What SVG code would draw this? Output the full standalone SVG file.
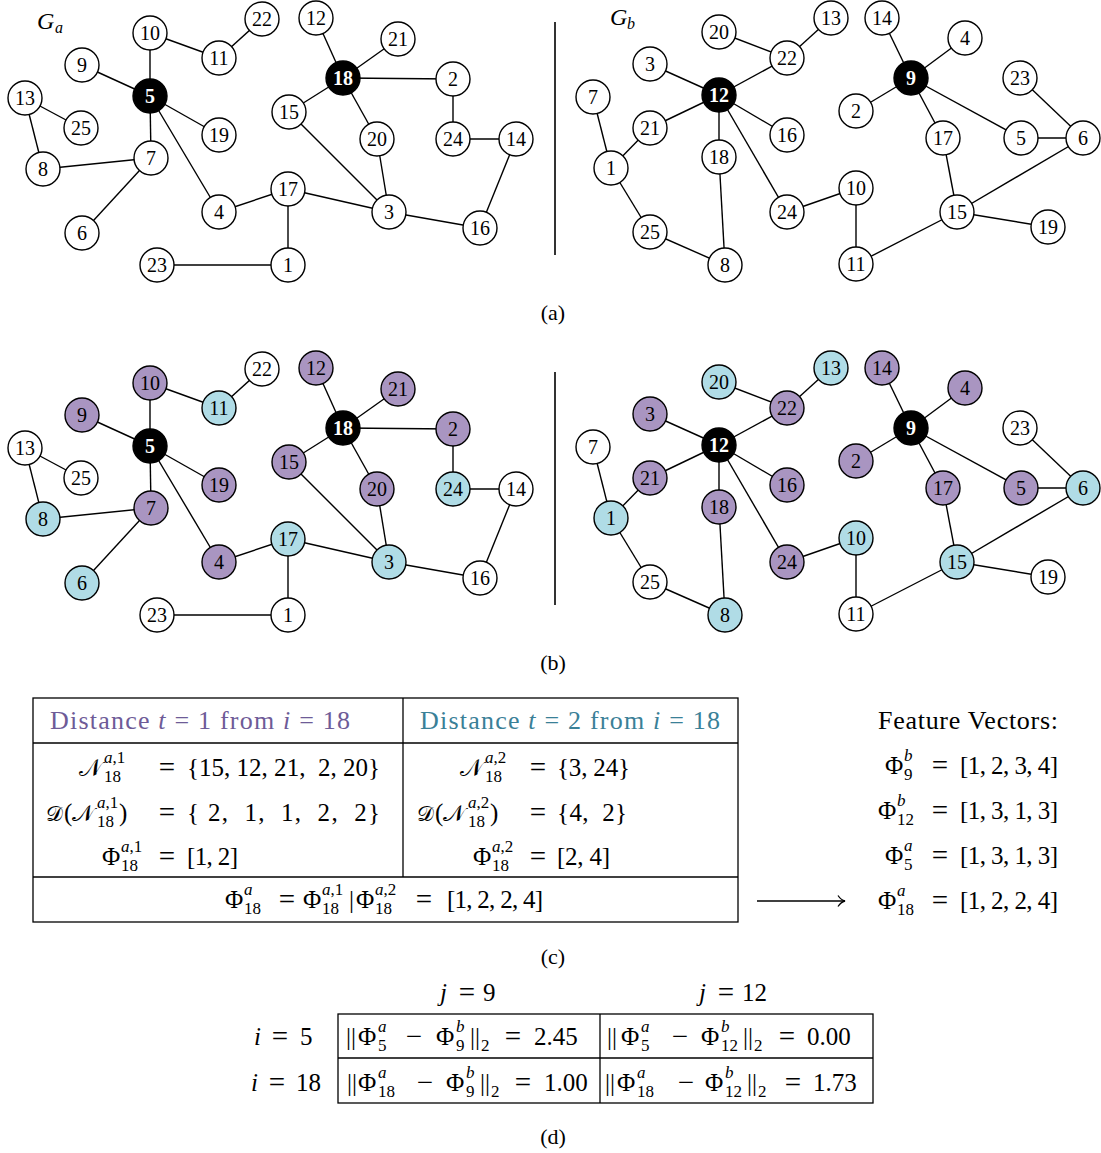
<svg xmlns="http://www.w3.org/2000/svg" width="1101" height="1153" viewBox="0 0 1101 1153">
<style>
.e{stroke:#000;stroke-width:1.4;fill:none}
.nd circle{stroke:#000;stroke-width:1.4}
.w circle{fill:#fff}.p circle{fill:#a995c1}.c circle{fill:#b0dce6}.k circle{fill:#000}
.nd text{font-family:"Liberation Serif",serif;font-size:20px;text-anchor:middle;fill:#000}
.k text{fill:#fff;font-weight:bold}
.m{font-family:"Liberation Serif",serif;font-size:25px;fill:#000}
.q{font-family:"Liberation Serif",serif;font-size:29px;fill:#000;text-anchor:middle}
.cal{font-family:"Liberation Serif",serif;font-size:24px;fill:#000}
.s{font-family:"Liberation Serif",serif;font-size:17px;fill:#000}
.i{font-style:italic}
.mid{text-anchor:middle}
.lbl{font-family:"Liberation Serif",serif;font-size:22px;text-anchor:middle}
.g{font-family:"Liberation Serif",serif;font-style:italic}
.tb{stroke:#000;stroke-width:1.3;fill:none}
.dv{stroke:#333;stroke-width:2}
</style>
<rect width="1101" height="1153" fill="#fff"/>

<g id="connectors" class="e">
<g id="edgesA">
<line x1="150" y1="33" x2="150" y2="96"/><line x1="150" y1="33" x2="219" y2="58"/><line x1="219" y1="58" x2="262" y2="19"/>
<line x1="82" y1="65" x2="150" y2="96"/><line x1="150" y1="96" x2="219" y2="135"/><line x1="150" y1="96" x2="151" y2="158"/>
<line x1="150" y1="96" x2="219" y2="212"/><line x1="25" y1="98" x2="81" y2="128"/><line x1="25" y1="98" x2="43" y2="169"/>
<line x1="43" y1="169" x2="151" y2="158"/><line x1="151" y1="158" x2="82" y2="233"/><line x1="219" y1="212" x2="288" y2="189"/>
<line x1="288" y1="189" x2="288" y2="265"/><line x1="288" y1="189" x2="389" y2="212"/><line x1="157" y1="265" x2="288" y2="265"/>
<line x1="316" y1="18" x2="343" y2="78"/><line x1="398" y1="39" x2="343" y2="78"/><line x1="343" y1="78" x2="453" y2="79"/>
<line x1="343" y1="78" x2="289" y2="112"/><line x1="343" y1="78" x2="377" y2="139"/><line x1="289" y1="112" x2="389" y2="212"/>
<line x1="377" y1="139" x2="389" y2="212"/><line x1="453" y1="79" x2="453" y2="139"/><line x1="453" y1="139" x2="516" y2="139"/>
<line x1="516" y1="139" x2="480" y2="228"/><line x1="389" y1="212" x2="480" y2="228"/>
</g>
<g id="edgesB">
<line x1="719" y1="32" x2="787" y2="58"/><line x1="831" y1="18" x2="787" y2="58"/><line x1="787" y1="58" x2="719" y2="95"/>
<line x1="650" y1="64" x2="719" y2="95"/><line x1="719" y1="95" x2="650" y2="128"/><line x1="719" y1="95" x2="787" y2="135"/>
<line x1="719" y1="95" x2="719" y2="157"/><line x1="719" y1="95" x2="787" y2="212"/><line x1="650" y1="128" x2="611" y2="168"/>
<line x1="593" y1="97" x2="611" y2="168"/><line x1="611" y1="168" x2="650" y2="232"/><line x1="650" y1="232" x2="725" y2="265"/>
<line x1="719" y1="157" x2="725" y2="265"/><line x1="787" y1="212" x2="856" y2="188"/><line x1="856" y1="188" x2="856" y2="264"/>
<line x1="856" y1="264" x2="957" y2="212"/><line x1="957" y1="212" x2="1048" y2="227"/><line x1="957" y1="212" x2="1083" y2="138"/>
<line x1="957" y1="212" x2="943" y2="138"/><line x1="943" y1="138" x2="911" y2="78"/><line x1="911" y1="78" x2="882" y2="18"/>
<line x1="911" y1="78" x2="965" y2="38"/><line x1="911" y1="78" x2="856" y2="111"/><line x1="911" y1="78" x2="1021" y2="138"/>
<line x1="1021" y1="138" x2="1083" y2="138"/><line x1="1020" y1="78" x2="1083" y2="138"/>
</g>
<use href="#edgesA" transform="translate(0,350)"/>
<use href="#edgesB" transform="translate(0,350)"/>
</g>

<line class="dv" x1="555" y1="22" x2="555" y2="255"/>
<line class="dv" x1="555" y1="372" x2="555" y2="605"/>
<text class="g" x="37" y="29" font-size="24">G</text><text class="g" x="55" y="33" font-size="16">a</text>
<text class="g" x="610" y="25" font-size="24">G</text><text class="g" x="627" y="29" font-size="16">b</text>

<!-- Panel (a) G_a -->
<g id="panelA-Ga">
<g id="a-a10" class="nd w"><circle cx="150" cy="33" r="17"/><text x="150" y="40">10</text></g>
<g id="a-a22" class="nd w"><circle cx="262" cy="19" r="17"/><text x="262" y="26">22</text></g>
<g id="a-a11" class="nd w"><circle cx="219" cy="58" r="17"/><text x="219" y="65">11</text></g>
<g id="a-a9" class="nd w"><circle cx="82" cy="65" r="17"/><text x="82" y="72">9</text></g>
<g id="a-a5" class="nd k"><circle cx="150" cy="96" r="17"/><text x="150" y="103">5</text></g>
<g id="a-a13" class="nd w"><circle cx="25" cy="98" r="17"/><text x="25" y="105">13</text></g>
<g id="a-a25" class="nd w"><circle cx="81" cy="128" r="17"/><text x="81" y="135">25</text></g>
<g id="a-a19" class="nd w"><circle cx="219" cy="135" r="17"/><text x="219" y="142">19</text></g>
<g id="a-a8" class="nd w"><circle cx="43" cy="169" r="17"/><text x="43" y="176">8</text></g>
<g id="a-a7" class="nd w"><circle cx="151" cy="158" r="17"/><text x="151" y="165">7</text></g>
<g id="a-a6" class="nd w"><circle cx="82" cy="233" r="17"/><text x="82" y="240">6</text></g>
<g id="a-a4" class="nd w"><circle cx="219" cy="212" r="17"/><text x="219" y="219">4</text></g>
<g id="a-a17" class="nd w"><circle cx="288" cy="189" r="17"/><text x="288" y="196">17</text></g>
<g id="a-a23" class="nd w"><circle cx="157" cy="265" r="17"/><text x="157" y="272">23</text></g>
<g id="a-a1" class="nd w"><circle cx="288" cy="265" r="17"/><text x="288" y="272">1</text></g>
<g id="a-a12" class="nd w"><circle cx="316" cy="18" r="17"/><text x="316" y="25">12</text></g>
<g id="a-a21" class="nd w"><circle cx="398" cy="39" r="17"/><text x="398" y="46">21</text></g>
<g id="a-a18" class="nd k"><circle cx="343" cy="78" r="17"/><text x="343" y="85">18</text></g>
<g id="a-a2" class="nd w"><circle cx="453" cy="79" r="17"/><text x="453" y="86">2</text></g>
<g id="a-a15" class="nd w"><circle cx="289" cy="112" r="17"/><text x="289" y="119">15</text></g>
<g id="a-a20" class="nd w"><circle cx="377" cy="139" r="17"/><text x="377" y="146">20</text></g>
<g id="a-a24" class="nd w"><circle cx="453" cy="139" r="17"/><text x="453" y="146">24</text></g>
<g id="a-a14" class="nd w"><circle cx="516" cy="139" r="17"/><text x="516" y="146">14</text></g>
<g id="a-a3" class="nd w"><circle cx="389" cy="212" r="17"/><text x="389" y="219">3</text></g>
<g id="a-a16" class="nd w"><circle cx="480" cy="228" r="17"/><text x="480" y="235">16</text></g>
</g>
<!-- Panel (a) G_b -->
<g id="panelA-Gb">
<g id="a-b20" class="nd w"><circle cx="719" cy="32" r="17"/><text x="719" y="39">20</text></g>
<g id="a-b13" class="nd w"><circle cx="831" cy="18" r="17"/><text x="831" y="25">13</text></g>
<g id="a-b22" class="nd w"><circle cx="787" cy="58" r="17"/><text x="787" y="65">22</text></g>
<g id="a-b14" class="nd w"><circle cx="882" cy="18" r="17"/><text x="882" y="25">14</text></g>
<g id="a-b4" class="nd w"><circle cx="965" cy="38" r="17"/><text x="965" y="45">4</text></g>
<g id="a-b3" class="nd w"><circle cx="650" cy="64" r="17"/><text x="650" y="71">3</text></g>
<g id="a-b12" class="nd k"><circle cx="719" cy="95" r="17"/><text x="719" y="102">12</text></g>
<g id="a-b9" class="nd k"><circle cx="911" cy="78" r="17"/><text x="911" y="85">9</text></g>
<g id="a-b23" class="nd w"><circle cx="1020" cy="78" r="17"/><text x="1020" y="85">23</text></g>
<g id="a-b7" class="nd w"><circle cx="593" cy="97" r="17"/><text x="593" y="104">7</text></g>
<g id="a-b21" class="nd w"><circle cx="650" cy="128" r="17"/><text x="650" y="135">21</text></g>
<g id="a-b16" class="nd w"><circle cx="787" cy="135" r="17"/><text x="787" y="142">16</text></g>
<g id="a-b2" class="nd w"><circle cx="856" cy="111" r="17"/><text x="856" y="118">2</text></g>
<g id="a-b18" class="nd w"><circle cx="719" cy="157" r="17"/><text x="719" y="164">18</text></g>
<g id="a-b17" class="nd w"><circle cx="943" cy="138" r="17"/><text x="943" y="145">17</text></g>
<g id="a-b5" class="nd w"><circle cx="1021" cy="138" r="17"/><text x="1021" y="145">5</text></g>
<g id="a-b6" class="nd w"><circle cx="1083" cy="138" r="17"/><text x="1083" y="145">6</text></g>
<g id="a-b1" class="nd w"><circle cx="611" cy="168" r="17"/><text x="611" y="175">1</text></g>
<g id="a-b10" class="nd w"><circle cx="856" cy="188" r="17"/><text x="856" y="195">10</text></g>
<g id="a-b24" class="nd w"><circle cx="787" cy="212" r="17"/><text x="787" y="219">24</text></g>
<g id="a-b15" class="nd w"><circle cx="957" cy="212" r="17"/><text x="957" y="219">15</text></g>
<g id="a-b19" class="nd w"><circle cx="1048" cy="227" r="17"/><text x="1048" y="234">19</text></g>
<g id="a-b25" class="nd w"><circle cx="650" cy="232" r="17"/><text x="650" y="239">25</text></g>
<g id="a-b8" class="nd w"><circle cx="725" cy="265" r="17"/><text x="725" y="272">8</text></g>
<g id="a-b11" class="nd w"><circle cx="856" cy="264" r="17"/><text x="856" y="271">11</text></g>
</g>

<!-- Panel (b) -->
<g id="panelB" transform="translate(0,350)">
<g id="b-a10" class="nd p"><circle cx="150" cy="33" r="17"/><text x="150" y="40">10</text></g>
<g id="b-a22" class="nd w"><circle cx="262" cy="19" r="17"/><text x="262" y="26">22</text></g>
<g id="b-a11" class="nd c"><circle cx="219" cy="58" r="17"/><text x="219" y="65">11</text></g>
<g id="b-a9" class="nd p"><circle cx="82" cy="65" r="17"/><text x="82" y="72">9</text></g>
<g id="b-a5" class="nd k"><circle cx="150" cy="96" r="17"/><text x="150" y="103">5</text></g>
<g id="b-a13" class="nd w"><circle cx="25" cy="98" r="17"/><text x="25" y="105">13</text></g>
<g id="b-a25" class="nd w"><circle cx="81" cy="128" r="17"/><text x="81" y="135">25</text></g>
<g id="b-a19" class="nd p"><circle cx="219" cy="135" r="17"/><text x="219" y="142">19</text></g>
<g id="b-a8" class="nd c"><circle cx="43" cy="169" r="17"/><text x="43" y="176">8</text></g>
<g id="b-a7" class="nd p"><circle cx="151" cy="158" r="17"/><text x="151" y="165">7</text></g>
<g id="b-a6" class="nd c"><circle cx="82" cy="233" r="17"/><text x="82" y="240">6</text></g>
<g id="b-a4" class="nd p"><circle cx="219" cy="212" r="17"/><text x="219" y="219">4</text></g>
<g id="b-a17" class="nd c"><circle cx="288" cy="189" r="17"/><text x="288" y="196">17</text></g>
<g id="b-a23" class="nd w"><circle cx="157" cy="265" r="17"/><text x="157" y="272">23</text></g>
<g id="b-a1" class="nd w"><circle cx="288" cy="265" r="17"/><text x="288" y="272">1</text></g>
<g id="b-a12" class="nd p"><circle cx="316" cy="18" r="17"/><text x="316" y="25">12</text></g>
<g id="b-a21" class="nd p"><circle cx="398" cy="39" r="17"/><text x="398" y="46">21</text></g>
<g id="b-a18" class="nd k"><circle cx="343" cy="78" r="17"/><text x="343" y="85">18</text></g>
<g id="b-a2" class="nd p"><circle cx="453" cy="79" r="17"/><text x="453" y="86">2</text></g>
<g id="b-a15" class="nd p"><circle cx="289" cy="112" r="17"/><text x="289" y="119">15</text></g>
<g id="b-a20" class="nd p"><circle cx="377" cy="139" r="17"/><text x="377" y="146">20</text></g>
<g id="b-a24" class="nd c"><circle cx="453" cy="139" r="17"/><text x="453" y="146">24</text></g>
<g id="b-a14" class="nd w"><circle cx="516" cy="139" r="17"/><text x="516" y="146">14</text></g>
<g id="b-a3" class="nd c"><circle cx="389" cy="212" r="17"/><text x="389" y="219">3</text></g>
<g id="b-a16" class="nd w"><circle cx="480" cy="228" r="17"/><text x="480" y="235">16</text></g>

<g id="b-b20" class="nd c"><circle cx="719" cy="32" r="17"/><text x="719" y="39">20</text></g>
<g id="b-b13" class="nd c"><circle cx="831" cy="18" r="17"/><text x="831" y="25">13</text></g>
<g id="b-b22" class="nd p"><circle cx="787" cy="58" r="17"/><text x="787" y="65">22</text></g>
<g id="b-b14" class="nd p"><circle cx="882" cy="18" r="17"/><text x="882" y="25">14</text></g>
<g id="b-b4" class="nd p"><circle cx="965" cy="38" r="17"/><text x="965" y="45">4</text></g>
<g id="b-b3" class="nd p"><circle cx="650" cy="64" r="17"/><text x="650" y="71">3</text></g>
<g id="b-b12" class="nd k"><circle cx="719" cy="95" r="17"/><text x="719" y="102">12</text></g>
<g id="b-b9" class="nd k"><circle cx="911" cy="78" r="17"/><text x="911" y="85">9</text></g>
<g id="b-b23" class="nd w"><circle cx="1020" cy="78" r="17"/><text x="1020" y="85">23</text></g>
<g id="b-b7" class="nd w"><circle cx="593" cy="97" r="17"/><text x="593" y="104">7</text></g>
<g id="b-b21" class="nd p"><circle cx="650" cy="128" r="17"/><text x="650" y="135">21</text></g>
<g id="b-b16" class="nd p"><circle cx="787" cy="135" r="17"/><text x="787" y="142">16</text></g>
<g id="b-b2" class="nd p"><circle cx="856" cy="111" r="17"/><text x="856" y="118">2</text></g>
<g id="b-b18" class="nd p"><circle cx="719" cy="157" r="17"/><text x="719" y="164">18</text></g>
<g id="b-b17" class="nd p"><circle cx="943" cy="138" r="17"/><text x="943" y="145">17</text></g>
<g id="b-b5" class="nd p"><circle cx="1021" cy="138" r="17"/><text x="1021" y="145">5</text></g>
<g id="b-b6" class="nd c"><circle cx="1083" cy="138" r="17"/><text x="1083" y="145">6</text></g>
<g id="b-b1" class="nd c"><circle cx="611" cy="168" r="17"/><text x="611" y="175">1</text></g>
<g id="b-b10" class="nd c"><circle cx="856" cy="188" r="17"/><text x="856" y="195">10</text></g>
<g id="b-b24" class="nd p"><circle cx="787" cy="212" r="17"/><text x="787" y="219">24</text></g>
<g id="b-b15" class="nd c"><circle cx="957" cy="212" r="17"/><text x="957" y="219">15</text></g>
<g id="b-b19" class="nd w"><circle cx="1048" cy="227" r="17"/><text x="1048" y="234">19</text></g>
<g id="b-b25" class="nd w"><circle cx="650" cy="232" r="17"/><text x="650" y="239">25</text></g>
<g id="b-b8" class="nd c"><circle cx="725" cy="265" r="17"/><text x="725" y="272">8</text></g>
<g id="b-b11" class="nd w"><circle cx="856" cy="264" r="17"/><text x="856" y="271">11</text></g>
</g>

<text class="lbl" x="553" y="320">(a)</text>
<text class="lbl" x="553" y="670">(b)</text>

<!-- Table (c) -->
<g id="tableC">
<rect class="tb" x="33" y="698" width="705" height="224"/>
<line class="tb" x1="33" y1="743" x2="738" y2="743"/>
<line class="tb" x1="33" y1="877" x2="738" y2="877"/>
<line class="tb" x1="403" y1="698" x2="403" y2="877"/>
<text class="m" x="50" y="729" style="fill:#6e5b97;font-size:26px" textLength="300" lengthAdjust="spacing">Distance <tspan class="i">t</tspan> = 1 from <tspan class="i">i</tspan> = 18</text>
<text class="m" x="420" y="729" style="fill:#3a8097;font-size:26px" textLength="300" lengthAdjust="spacing">Distance <tspan class="i">t</tspan> = 2 from <tspan class="i">i</tspan> = 18</text>

<text class="cal" x="79" y="776">𝒩</text><text class="s" x="104" y="763"><tspan class="i">a</tspan>,1</text><text class="s" x="104" y="782">18</text>
<text class="q" x="167" y="777">=</text>
<text class="m" x="187" y="776" textLength="193" lengthAdjust="spacing" xml:space="preserve">{15, 12, 21,  2, 20}</text>

<text class="cal" x="46" y="821" style="font-size:21px">𝒟</text><text class="m" x="64" y="821">(</text><text class="cal" x="72" y="821" style="font-size:23px">𝒩</text><text class="s" x="97" y="808"><tspan class="i">a</tspan>,1</text><text class="s" x="97" y="827">18</text><text class="m" x="119" y="821">)</text>
<text class="q" x="167" y="822">=</text>
<text class="m" x="187" y="821" textLength="193" lengthAdjust="spacing" xml:space="preserve">{ 2,  1,  1,  2,  2}</text>

<text class="m" x="102" y="865">Φ</text><text class="s" x="121" y="852"><tspan class="i">a</tspan>,1</text><text class="s" x="121" y="871">18</text>
<text class="q" x="167" y="866">=</text>
<text class="m" x="187" y="865" textLength="51" lengthAdjust="spacing">[1, 2]</text>

<text class="cal" x="460" y="776">𝒩</text><text class="s" x="485" y="763"><tspan class="i">a</tspan>,2</text><text class="s" x="485" y="782">18</text>
<text class="q" x="538" y="777">=</text>
<text class="m" x="557" y="776" textLength="73" lengthAdjust="spacing">{3, 24}</text>

<text class="cal" x="417" y="821" style="font-size:21px">𝒟</text><text class="m" x="435" y="821">(</text><text class="cal" x="443" y="821" style="font-size:23px">𝒩</text><text class="s" x="468" y="808"><tspan class="i">a</tspan>,2</text><text class="s" x="468" y="827">18</text><text class="m" x="490" y="821">)</text>
<text class="q" x="538" y="822">=</text>
<text class="m" x="557" y="821" textLength="70" lengthAdjust="spacing" xml:space="preserve">{4,  2}</text>

<text class="m" x="473" y="865">Φ</text><text class="s" x="492" y="852"><tspan class="i">a</tspan>,2</text><text class="s" x="492" y="871">18</text>
<text class="q" x="538" y="866">=</text>
<text class="m" x="557" y="865" textLength="53" lengthAdjust="spacing">[2, 4]</text>

<text class="m" x="225" y="908">Φ</text><text class="s i" x="244" y="895">a</text><text class="s" x="244" y="914">18</text>
<text class="q" x="287" y="909">=</text>
<text class="m" x="303" y="908">Φ</text><text class="s" x="322" y="895"><tspan class="i">a</tspan>,1</text><text class="s" x="322" y="914">18</text>
<text class="m" x="349" y="908">|</text>
<text class="m" x="356" y="908">Φ</text><text class="s" x="375" y="895"><tspan class="i">a</tspan>,2</text><text class="s" x="375" y="914">18</text>
<text class="q" x="424" y="909">=</text>
<text class="m" x="447" y="908" textLength="96" lengthAdjust="spacing">[1, 2, 2, 4]</text>
</g>

<!-- Feature vectors -->
<g id="featureVectors">
<text class="m" x="878" y="729" style="font-size:26px" textLength="180" lengthAdjust="spacing">Feature Vectors:</text>
<text class="m" x="885" y="774">Φ</text><text class="s i" x="904" y="761">b</text><text class="s" x="904" y="780">9</text>
<text class="q" x="940" y="775">=</text><text class="m" x="960" y="774" textLength="98" lengthAdjust="spacing">[1, 2, 3, 4]</text>
<text class="m" x="878" y="819">Φ</text><text class="s i" x="897" y="806">b</text><text class="s" x="897" y="825">12</text>
<text class="q" x="940" y="820">=</text><text class="m" x="960" y="819" textLength="98" lengthAdjust="spacing">[1, 3, 1, 3]</text>
<text class="m" x="885" y="864">Φ</text><text class="s i" x="904" y="851">a</text><text class="s" x="904" y="870">5</text>
<text class="q" x="940" y="865">=</text><text class="m" x="960" y="864" textLength="98" lengthAdjust="spacing">[1, 3, 1, 3]</text>
<text class="m" x="878" y="909">Φ</text><text class="s i" x="897" y="896">a</text><text class="s" x="897" y="915">18</text>
<text class="q" x="940" y="910">=</text><text class="m" x="960" y="909" textLength="98" lengthAdjust="spacing">[1, 2, 2, 4]</text>
</g>
<g id="arrow" fill="none" stroke="#000" stroke-width="1.3">
<path d="M757,901 H845"/>
<path d="M838,895.5 Q841,900 845,901 Q841,902 838,906.5"/>
</g>

<text class="lbl" x="553" y="964">(c)</text>

<!-- Table (d) -->
<g id="tableD">
<rect class="tb" x="338" y="1014" width="535" height="89"/>
<line class="tb" x1="338" y1="1058" x2="873" y2="1058"/>
<line class="tb" x1="600" y1="1014" x2="600" y2="1103"/>
<text class="m" x="440" y="1001"><tspan class="i">j</tspan></text><text class="q" x="467" y="1002">=</text><text class="m" x="483" y="1001">9</text>
<text class="m" x="699" y="1001"><tspan class="i">j</tspan></text><text class="q" x="726" y="1002">=</text><text class="m" x="742" y="1001">12</text>
<text class="m i" x="254" y="1045">i</text><text class="q" x="280" y="1046">=</text><text class="m" x="300" y="1045">5</text>
<text class="m i" x="251" y="1091">i</text><text class="q" x="277" y="1092">=</text><text class="m" x="296" y="1091">18</text>

<text class="m" x="346" y="1045">||</text><text class="m" x="358" y="1045">Φ</text><text class="s i" x="378" y="1032">a</text><text class="s" x="378" y="1051">5</text>
<text class="q" x="414" y="1046">−</text>
<text class="m" x="436" y="1045">Φ</text><text class="s i" x="456" y="1032">b</text><text class="s" x="456" y="1051">9</text>
<text class="m" x="470" y="1045">||</text><text class="s" x="481" y="1051">2</text>
<text class="q" x="513" y="1046">=</text><text class="m" x="534" y="1045">2.45</text>

<text class="m" x="607" y="1045">||</text><text class="m" x="621" y="1045">Φ</text><text class="s i" x="641" y="1032">a</text><text class="s" x="641" y="1051">5</text>
<text class="q" x="680" y="1046">−</text>
<text class="m" x="701" y="1045">Φ</text><text class="s i" x="721" y="1032">b</text><text class="s" x="721" y="1051">12</text>
<text class="m" x="743" y="1045">||</text><text class="s" x="754" y="1051">2</text>
<text class="q" x="787" y="1046">=</text><text class="m" x="807" y="1045">0.00</text>

<text class="m" x="347" y="1091">||</text><text class="m" x="358" y="1091">Φ</text><text class="s i" x="378" y="1078">a</text><text class="s" x="378" y="1097">18</text>
<text class="q" x="425" y="1092">−</text>
<text class="m" x="446" y="1091">Φ</text><text class="s i" x="466" y="1078">b</text><text class="s" x="466" y="1097">9</text>
<text class="m" x="480" y="1091">||</text><text class="s" x="491" y="1097">2</text>
<text class="q" x="523" y="1092">=</text><text class="m" x="544" y="1091">1.00</text>

<text class="m" x="605" y="1091">||</text><text class="m" x="617" y="1091">Φ</text><text class="s i" x="637" y="1078">a</text><text class="s" x="637" y="1097">18</text>
<text class="q" x="686" y="1092">−</text>
<text class="m" x="705" y="1091">Φ</text><text class="s i" x="725" y="1078">b</text><text class="s" x="725" y="1097">12</text>
<text class="m" x="747" y="1091">||</text><text class="s" x="758" y="1097">2</text>
<text class="q" x="793" y="1092">=</text><text class="m" x="813" y="1091">1.73</text>
</g>

<text class="lbl" x="553" y="1144">(d)</text>
</svg>
